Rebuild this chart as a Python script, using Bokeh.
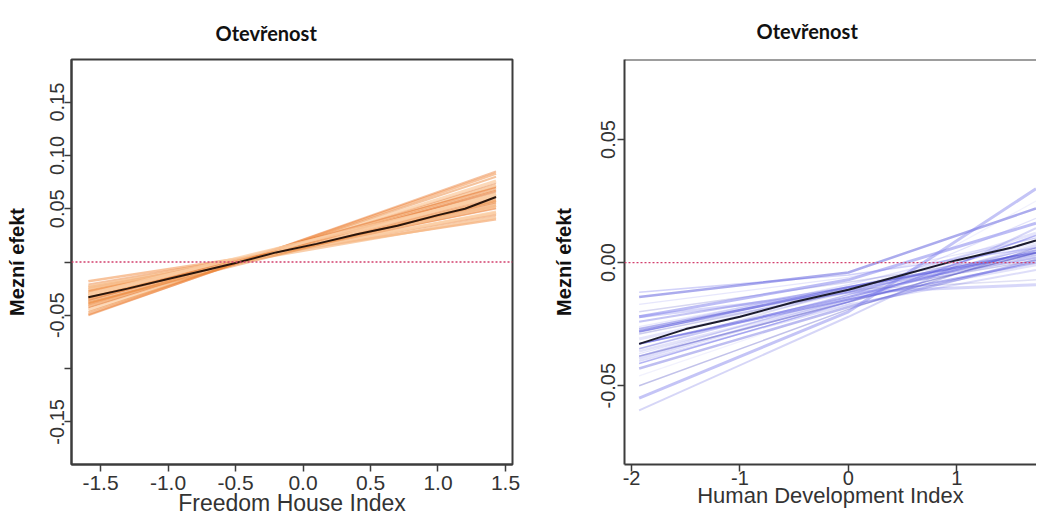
from bokeh.plotting import figure
from bokeh.layouts import row
from bokeh.models import (ColumnDataSource, FixedTicker, Span, Range1d,
                          CustomJSTickFormatter)
from bokeh.embed import file_html
from bokeh.resources import INLINE

# ---------------- data: left panel (Freedom House Index) ----------------
fh_x_range = [-1.59, 1.43]
fh_draw_start = [-0.018, -0.021, -0.023, -0.025, -0.026, -0.027, -0.028, -0.029, -0.030,
                 -0.031, -0.032, -0.033, -0.034, -0.035, -0.036, -0.037, -0.038, -0.039,
                 -0.040, -0.041, -0.042, -0.043, -0.045, -0.047, -0.049, -0.050, -0.024,
                 -0.036, -0.030, -0.038]
fh_draw_end = [0.040, 0.044, 0.046, 0.050, 0.047, 0.053, 0.051, 0.055, 0.053,
               0.057, 0.058, 0.056, 0.062, 0.060, 0.064, 0.066, 0.063, 0.068,
               0.070, 0.067, 0.072, 0.074, 0.076, 0.080, 0.083, 0.085, 0.042,
               0.070, 0.062, 0.058]
fh_main_x = [-1.59, -1.3, -1.0, -0.7, -0.5, -0.2, 0.1, 0.4, 0.7, 1.0, 1.2, 1.43]
fh_main_y = [-0.033, -0.025, -0.016, -0.007, -0.001, 0.009, 0.017, 0.026, 0.034, 0.044, 0.050, 0.061]

# ---------------- data: right panel (Human Development Index) ----------------
hdi_x = [-1.93, 0.0, 1.73]
hdi_draws = [
    [-0.012, -0.005, 0.006], [-0.014, -0.004, 0.022], [-0.017, -0.006, 0.010],
    [-0.020, -0.008, 0.004], [-0.022, -0.007, 0.016], [-0.024, -0.010, 0.003],
    [-0.026, -0.010, 0.008], [-0.027, -0.011, 0.002], [-0.028, -0.012, 0.006],
    [-0.029, -0.012, 0.001], [-0.031, -0.012, 0.012], [-0.033, -0.014, 0.005],
    [-0.035, -0.013, 0.009], [-0.036, -0.015, -0.001], [-0.037, -0.014, 0.018],
    [-0.038, -0.016, 0.004], [-0.039, -0.015, 0.007], [-0.040, -0.017, -0.003],
    [-0.041, -0.016, 0.011], [-0.043, -0.018, 0.001], [-0.046, -0.017, 0.025],
    [-0.050, -0.019, 0.006], [-0.055, -0.020, 0.030], [-0.060, -0.022, 0.014],
    [-0.027, -0.009, 0.010], [-0.028, -0.010, 0.004], [-0.038, -0.013, 0.002],
    [-0.035, -0.011, -0.007], [-0.022, -0.012, -0.009], [-0.033, -0.015, 0.000],
]
hdi_main_x = [-1.93, -1.5, -1.0, -0.5, 0.0, 0.5, 1.0, 1.5, 1.73]
hdi_main_y = [-0.033, -0.027, -0.022, -0.016, -0.011, -0.005, 0.001, 0.006, 0.009]

title_text = "Otevřenost"
ylabel = "Mezní efekt"
fh_label = "Freedom House Index"
hdi_label = "Human Development Index"
fh_yticks = [-0.15, -0.10, -0.05, 0.0, 0.05, 0.10, 0.15]
fh_xticks = [-1.5, -1.0, -0.5, 0.0, 0.5, 1.0, 1.5]
hdi_yticks = [-0.05, 0.0, 0.05]
hdi_xticks = [-2, -1, 0, 1]

AX = "#3c3c3c"
TXT = "#333333"
TICK_FONT = "Liberation Sans"


def style_axes(p, xlabel):
    for ax in p.xaxis + p.yaxis:
        ax.axis_line_color = AX
        ax.axis_line_width = 2
        ax.major_tick_line_color = AX
        ax.major_tick_line_width = 1.5
        ax.major_tick_out = 7
        ax.major_tick_in = 0
        ax.minor_tick_line_color = None
        ax.major_label_text_font = TICK_FONT
        ax.major_label_text_color = TXT
    p.xaxis.major_label_text_font_size = "21px"
    p.yaxis.major_label_text_font_size = "20px"
    p.xaxis.axis_label = xlabel
    p.xaxis.axis_label_text_font = TICK_FONT
    p.xaxis.axis_label_text_font_style = "normal"
    p.xaxis.axis_label_text_font_size = "23px"
    p.xaxis.axis_label_text_color = TXT
    p.yaxis.axis_label = ylabel
    p.yaxis.axis_label_text_font = TICK_FONT
    p.yaxis.axis_label_text_font_style = "bold"
    p.yaxis.axis_label_text_font_size = "20px"
    p.yaxis.axis_label_text_color = "#111111"
    p.yaxis.major_label_orientation = "vertical"
    p.xgrid.visible = False
    p.ygrid.visible = False
    p.title.text = title_text
    p.title.text_font = "Lato"
    p.title.text_font_style = "bold"
    p.title.text_font_size = "20px"
    p.title.text_color = "#111111"
    p.title.align = "left"
    p.title.text_line_height = 0.6


# ---------------- left figure ----------------
p1 = figure(width=528, height=520, output_backend="svg", toolbar_location=None,
            x_range=Range1d(-1.715, 1.552), y_range=Range1d(-0.19, 0.19),
            min_border_left=71, min_border_right=16,
            min_border_top=0, min_border_bottom=56)
p1.outline_line_color = AX
p1.outline_line_width = 2
p1.outline_line_alpha = 1
style_axes(p1, fh_label)
p1.title.offset = 144
p1.title.standoff = 30
p1.xaxis.major_label_standoff = 4
p1.xaxis.axis_label_standoff = -3
p1.yaxis.major_label_standoff = 0
p1.yaxis.axis_label_standoff = 20
p1.xaxis.ticker = FixedTicker(ticks=fh_xticks)
p1.xaxis.formatter = CustomJSTickFormatter(code="return tick.toFixed(1);")
p1.yaxis.ticker = FixedTicker(ticks=fh_yticks)
p1.yaxis.formatter = CustomJSTickFormatter(
    code="return (Math.abs(tick) < 1e-9 || Math.abs(tick + 0.1) < 1e-9) ? '' : tick.toFixed(2);")

or_cols = ["#f2924a", "#e8782c", "#f7bb88", "#df6518", "#fbd0a8", "#ec8a3e"]
or_alph = [0.55, 0.45, 0.7, 0.4, 0.8, 0.5]
or_wid = [2.5, 2.0, 3.0, 1.5, 3.0, 2.0]
n1 = len(fh_draw_start)
src1 = ColumnDataSource(dict(
    xs=[list(fh_x_range) for _ in range(n1)],
    ys=[[fh_draw_start[i], fh_draw_end[i]] for i in range(n1)],
    c=[or_cols[i % len(or_cols)] for i in range(n1)],
    a=[or_alph[i % len(or_alph)] for i in range(n1)],
    w=[or_wid[i % len(or_wid)] for i in range(n1)],
))
p1.multi_line(xs="xs", ys="ys", line_color="c", line_alpha="a", line_width="w", source=src1)
p1.add_layout(Span(location=0, dimension="width", line_color="#d2406e",
                   line_dash="2 2", line_width=1.3))
p1.line(fh_main_x, fh_main_y, line_color="#2a160c", line_width=2)

# ---------------- right figure ----------------
p2 = figure(width=508, height=520, output_backend="svg", toolbar_location=None,
            x_range=Range1d(-2.065, 1.735), y_range=Range1d(-0.082, 0.0825),
            min_border_left=96, min_border_right=0,
            min_border_top=0, min_border_bottom=48)
p2.outline_line_color = None
style_axes(p2, hdi_label)
p2.add_layout(Span(location=0.0825, dimension="width", line_color=AX, line_width=2))
p2.title.offset = 132
p2.title.standoff = 33
p2.yaxis.axis_label_standoff = 24
p2.yaxis.major_label_standoff = 2
p2.xaxis.ticker = FixedTicker(ticks=hdi_xticks)
p2.xaxis.formatter = CustomJSTickFormatter(code="return tick.toFixed(0);")
p2.xaxis.major_label_text_font_size = "20px"
p2.yaxis.ticker = FixedTicker(ticks=hdi_yticks)
p2.yaxis.formatter = CustomJSTickFormatter(code="return tick.toFixed(2);")
p2.xaxis.axis_label_text_font_size = "22px"
p2.xaxis.axis_label_standoff = -5
p2.xaxis.major_label_standoff = -1

bl_cols = ["#6b6bea", "#4545d6", "#a0a0f2", "#3535b8", "#7c7cec", "#5a5ae0"]
bl_alph = [0.3, 0.45, 0.25, 0.2, 0.5, 0.35, 0.15]
bl_wid = [1.5, 2.5, 1.2, 1.5, 3.0, 2.0]
n2 = len(hdi_draws)
src2 = ColumnDataSource(dict(
    xs=[list(hdi_x) for _ in range(n2)],
    ys=[list(d) for d in hdi_draws],
    c=[bl_cols[i % len(bl_cols)] for i in range(n2)],
    a=[bl_alph[i % len(bl_alph)] for i in range(n2)],
    w=[bl_wid[i % len(bl_wid)] for i in range(n2)],
))
p2.multi_line(xs="xs", ys="ys", line_color="c", line_alpha="a", line_width="w", source=src2)
p2.add_layout(Span(location=0, dimension="width", line_color="#d2406e",
                   line_dash="2 2", line_width=1.3))
p2.line(hdi_main_x, hdi_main_y, line_color="#1c1c2e", line_width=2)

layout = row(p1, p2)
open("out.html", "w").write(file_html(layout, INLINE))
